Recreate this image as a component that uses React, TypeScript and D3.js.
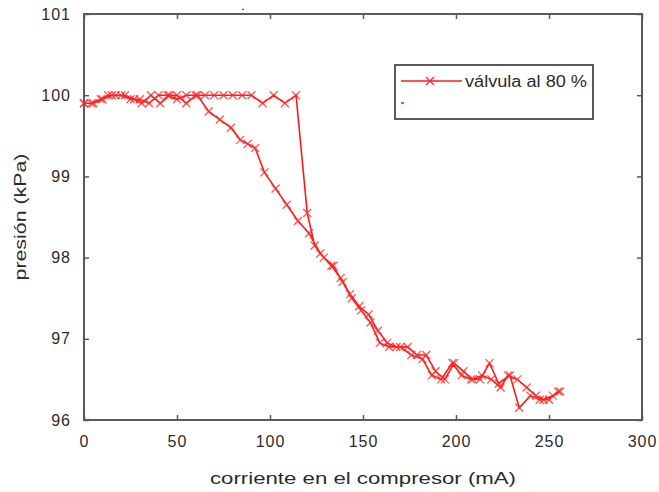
import { useEffect, useRef } from "react";
import * as d3 from "d3";

// ida: corriente creciente
const corrienteIda = [0, 4, 9, 13, 17, 22, 27, 31, 36, 41, 46, 50, 55, 60, 65, 70, 75, 80, 85, 90, 96, 102, 108, 114, 120, 124, 129, 134, 139, 144, 149, 154, 159, 164, 170, 176, 182, 187, 192, 198, 203, 208, 213, 218, 223, 229, 234, 240, 245, 250, 255];
const presionIda = [99.9, 99.9, 99.95, 100, 100, 100, 99.95, 99.9, 100, 99.9, 100, 100, 99.9, 100, 100, 100, 100, 100, 100, 100, 99.9, 100, 99.9, 100, 98.55, 98.15, 98.0, 97.9, 97.7, 97.5, 97.35, 97.2, 96.95, 96.9, 96.9, 96.8, 96.75, 96.55, 96.5, 96.7, 96.55, 96.5, 96.5, 96.7, 96.45, 96.55, 96.15, 96.3, 96.25, 96.25, 96.35];

// vuelta: corriente decreciente
const corrienteVuelta = [256, 252, 247, 243, 238, 233, 228, 224, 219, 214, 209, 204, 199, 194, 189, 184, 179, 174, 168, 163, 158, 153, 148, 143, 138, 133, 127, 121, 115, 109, 103, 97, 92, 88, 84, 79, 73, 67, 61, 55, 50, 45, 40, 35, 30, 25, 20, 15, 10, 5, 0];
const presionVuelta = [96.35, 96.3, 96.25, 96.3, 96.4, 96.5, 96.55, 96.4, 96.5, 96.55, 96.5, 96.6, 96.7, 96.5, 96.6, 96.8, 96.8, 96.9, 96.9, 96.95, 97.1, 97.3, 97.4, 97.55, 97.75, 97.9, 98.05, 98.3, 98.45, 98.65, 98.85, 99.05, 99.35, 99.4, 99.45, 99.6, 99.7, 99.8, 100, 100, 99.95, 100, 100, 99.9, 99.95, 99.95, 100, 100, 99.95, 99.9, 99.9];

const xTicks = [0, 50, 100, 150, 200, 250, 300];
const yTicks = [96, 97, 98, 99, 100, 101];

const serieNombre = "válvula al 80 %";

export default function App() {
    const ref = useRef<SVGSVGElement>(null);

    useEffect(() => {
        const width = 659;
        const height = 492;
        const margin = {top: 14, right: 17, bottom: 72, left: 84};
        const font = "'Liberation Sans', Arial, sans-serif";
        const frame = "#5a5a5a";
        const ink = "#2b2b2b";

        const svg = d3.select(ref.current);
        svg.selectAll("*").remove();

        const x = d3.scaleLinear().domain([0, 300]).range([margin.left, width - margin.right]);
        const y = d3.scaleLinear().domain([96, 101]).range([height - margin.bottom, margin.top]);

        const data = [
            ...corrienteIda.map((c, i) => [c, presionIda[i]]),
            ...corrienteVuelta.map((c, i) => [c, presionVuelta[i]]),
        ];

        svg.append("rect").attr("width", width).attr("height", height).attr("fill", "white");

        // axes (ticks pointing inwards on all four sides)
        const axisStyle = (g: any) => {
            g.select(".domain").remove();
            g.selectAll("line").attr("stroke", frame).attr("stroke-width", 1.5);
            g.selectAll("text")
                .attr("font-family", font).attr("font-size", 16)
                .attr("letter-spacing", 1).attr("fill", ink);
        };
        svg.append("g")
            .attr("transform", `translate(0,${y(96)})`)
            .call(d3.axisBottom(x).tickValues(xTicks).tickSize(-5).tickPadding(16).tickFormat(d3.format("d")))
            .call(axisStyle);
        svg.append("g")
            .attr("transform", `translate(0,${y(101)})`)
            .call(d3.axisTop(x).tickValues(xTicks).tickSize(-5).tickFormat(() => ""))
            .call(axisStyle);
        svg.append("g")
            .attr("transform", `translate(${x(0)},0)`)
            .call(d3.axisLeft(y).tickValues(yTicks).tickSize(-5).tickPadding(13).tickFormat(d3.format("d")))
            .call(axisStyle);
        svg.append("g")
            .attr("transform", `translate(${x(300)},0)`)
            .call(d3.axisRight(y).tickValues(yTicks).tickSize(-5).tickFormat(() => ""))
            .call(axisStyle);

        svg.append("rect")
            .attr("x", x(0)).attr("y", y(101))
            .attr("width", x(300) - x(0)).attr("height", y(96) - y(101))
            .attr("fill", "none").attr("stroke", frame).attr("stroke-width", 2);

        // series
        const line = d3.line().x(d => x(d[0])).y(d => y(d[1]));
        svg.append("path")
            .datum(data)
            .attr("fill", "none")
            .attr("stroke", "#ff1a1a")
            .attr("stroke-width", 1.6)
            .attr("d", line as any);

        const s = 4;
        svg.append("g")
            .attr("stroke", "#ff2a2a")
            .attr("stroke-width", 1.3)
            .attr("stroke-opacity", 0.8)
            .selectAll("path")
            .data(data)
            .join("path")
            .attr("d", d => `M${x(d[0]) - s},${y(d[1]) - s}L${x(d[0]) + s},${y(d[1]) + s}M${x(d[0]) - s},${y(d[1]) + s}L${x(d[0]) + s},${y(d[1]) - s}`);

        // legend
        const legend = svg.append("g");
        legend.append("rect")
            .attr("x", 395).attr("y", 65).attr("width", 198).attr("height", 54)
            .attr("fill", "white").attr("stroke", frame).attr("stroke-width", 2);
        legend.append("line")
            .attr("x1", 401).attr("x2", 462).attr("y1", 81).attr("y2", 81)
            .attr("stroke", "#ff1a1a").attr("stroke-width", 1.6);
        legend.append("path")
            .attr("d", `M${430 - s},${81 - s}L${430 + s},${81 + s}M${430 - s},${81 + s}L${430 + s},${81 - s}`)
            .attr("stroke", "#ff2a2a").attr("stroke-width", 1.3);
        legend.append("text")
            .attr("x", 465).attr("y", 87)
            .attr("font-family", font).attr("font-size", 16).attr("fill", ink)
            .attr("textLength", 122).attr("lengthAdjust", "spacingAndGlyphs")
            .text(serieNombre);
        legend.append("line")
            .attr("x1", 401).attr("x2", 404).attr("y1", 103).attr("y2", 103)
            .attr("stroke", "#ff1a1a").attr("stroke-width", 1.6);

        // title (only a dot) and axis labels
        svg.append("text")
            .attr("x", 243).attr("y", 10)
            .attr("font-family", font).attr("font-size", 12).attr("text-anchor", "middle")
            .text(".");
        svg.append("text")
            .attr("x", 363).attr("y", 484)
            .attr("text-anchor", "middle")
            .attr("font-family", font).attr("font-size", 17).attr("fill", ink)
            .attr("textLength", 306).attr("lengthAdjust", "spacingAndGlyphs")
            .text("corriente en el compresor (mA)");
        svg.append("text")
            .attr("transform", `translate(26,${(y(96) + y(101)) / 2}) rotate(-90)`)
            .attr("text-anchor", "middle")
            .attr("font-family", font).attr("font-size", 17).attr("fill", ink)
            .attr("textLength", 127).attr("lengthAdjust", "spacingAndGlyphs")
            .text("presión (kPa)");
    }, []);

    return (
        <div style={{position: "absolute", left: 0, top: 0}}>
            <svg ref={ref} width={659} height={492} style={{display: "block"}} />
        </div>
    );
}
